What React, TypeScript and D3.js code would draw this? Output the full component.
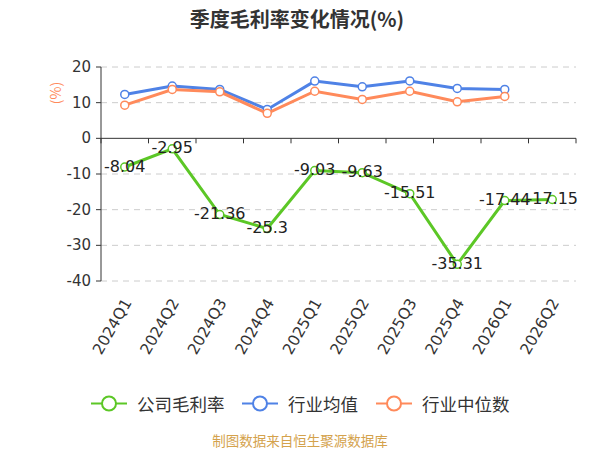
import React from "react";
import * as d3 from "d3";

const categories = ["2024Q1","2024Q2","2024Q3","2024Q4","2025Q1","2025Q2","2025Q3","2025Q4","2026Q1","2026Q2"];
const companyValues = [-8.04, -2.95, -21.36, -25.3, -9.03, -9.63, -15.51, -35.31, -17.44, -17.15];
const industryAvg = [12.3, 14.65, 13.7, 8.1, 16.05, 14.45, 16.1, 14.0, 13.7];
const industryMedian = [9.3, 13.7, 13.05, 7.0, 13.2, 10.9, 13.2, 10.25, 11.75];
const yTicks = [20, 10, 0, -10, -20, -30, -40];
const seriesNames = ["公司毛利率", "行业均值", "行业中位数"];

const GREEN = "#5CC726";
const BLUE = "#4F82E6";
const ORANGE = "#FF8A5B";
const FONT = "'Noto Sans CJK SC', 'Noto Sans', sans-serif";
const NUMFONT = "'DejaVu Sans', sans-serif";

export default function App() {
  const W = 600, H = 450;
  const left = 101, right = 576, top = 67, bottom = 281;
  const x = d3.scaleBand<string>().domain(categories).range([left, right]);
  const y = d3.scaleLinear().domain([-40, 20]).range([bottom, top]);
  const cx = (c: string) => (x(c) as number) + x.bandwidth() / 2;

  const mk = (vals: number[]) =>
    d3.line<number>().x((_, i) => cx(categories[i])).y((v) => y(v))(vals) as string;

  const series = [
    { vals: industryAvg, color: BLUE },
    { vals: industryMedian, color: ORANGE },
    { vals: companyValues, color: GREEN },
  ];

  const bandEdges = categories.map((c) => x(c) as number).concat([right]);
  const legendItems = [
    { name: seriesNames[0], color: GREEN, x0: 91 },
    { name: seriesNames[1], color: BLUE, x0: 242 },
    { name: seriesNames[2], color: ORANGE, x0: 376 },
  ];

  return (
    <svg width={W} height={H} style={{ position: "fixed", left: 0, top: 0, background: "#fff" }} fontFamily={FONT}>
      <rect width={W} height={H} fill="#fff" />
      <text x={297} y={18} textAnchor="middle" dominantBaseline="central" fontSize={20} fontWeight="bold" fill="#333">
        季度毛利率变化情况(%)
      </text>
      {yTicks.filter((t) => t !== 0).map((t) => (
        <line key={t} x1={left} x2={right} y1={y(t)} y2={y(t)} stroke="#ccc" strokeDasharray="6,5" strokeWidth={1} />
      ))}
      <line x1={left} x2={left} y1={top} y2={bottom} stroke="#333" strokeWidth={1} />
      {yTicks.map((t) => (
        <g key={t}>
          <line x1={left - 5} x2={left} y1={y(t)} y2={y(t)} stroke="#333" />
          <text x={left - 10} y={y(t)} textAnchor="end" dominantBaseline="central" fontSize={15} fontFamily={NUMFONT} fill="#333">
            {t}
          </text>
        </g>
      ))}
      <text transform={`translate(55,93) rotate(-90)`} textAnchor="middle" dominantBaseline="central" fontSize={14} fill={ORANGE}>
        (%)
      </text>
      <line x1={left} x2={right} y1={y(0)} y2={y(0)} stroke="#333" strokeWidth={1} />
      {bandEdges.map((e, i) => (
        <line key={i} x1={e} x2={e} y1={y(0)} y2={y(0) + 5} stroke="#333" />
      ))}
      {categories.map((c) => (
        <text key={c} transform={`translate(${cx(c) + 3},${bottom + 19}) rotate(-60)`} textAnchor="end" dominantBaseline="central" fontSize={15.5} fontFamily={NUMFONT} fill="#333">
          {c}
        </text>
      ))}
      {series.map((s, si) => (
        <g key={si}>
          <path d={mk(s.vals)} fill="none" stroke={s.color} strokeWidth={3} />
          {s.vals.map((v, i) => (
            <circle key={i} cx={cx(categories[i])} cy={y(v)} r={4} fill="#fff" stroke={s.color} strokeWidth={1.5} />
          ))}
        </g>
      ))}
      {companyValues.map((v, i) => (
        <text key={i} x={cx(categories[i])} y={y(v) - 1} textAnchor="middle" dominantBaseline="central" fontSize={16} fontFamily={NUMFONT} fill="#222">
          {String(v)}
        </text>
      ))}
      {legendItems.map((it) => (
        <g key={it.name}>
          <line x1={it.x0} x2={it.x0 + 36} y1={403.5} y2={403.5} stroke={it.color} strokeWidth={2} />
          <circle cx={it.x0 + 18} cy={403.5} r={7} fill="#fff" stroke={it.color} strokeWidth={2} />
          <text x={it.x0 + 46} y={403.5} dominantBaseline="central" fontSize={17.5} fill="#333">
            {it.name}
          </text>
        </g>
      ))}
      <text x={300} y={440} textAnchor="middle" dominantBaseline="central" fontSize={13.5} fill="#D4A24C">
        制图数据来自恒生聚源数据库
      </text>
    </svg>
  );
}
